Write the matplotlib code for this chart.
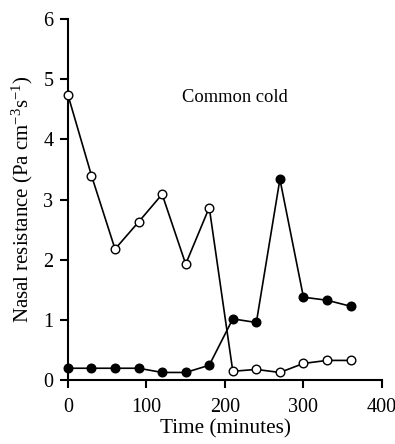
import matplotlib
matplotlib.use("Agg")
import matplotlib.pyplot as plt

time_min = [0, 30, 60, 90, 120, 150, 180, 210, 240, 270, 300, 330, 360]
open_series = [4.74, 3.40, 2.18, 2.63, 3.09, 1.93, 2.87, 0.15, 0.18, 0.13, 0.28, 0.33, 0.33]
filled_series = [0.20, 0.20, 0.20, 0.20, 0.13, 0.13, 0.25, 1.02, 0.96, 3.34, 1.38, 1.33, 1.23]
x_ticks = [0, 100, 200, 300, 400]
y_ticks = [0, 1, 2, 3, 4, 5, 6]

plt.rcParams['font.family'] = ['Liberation Serif', 'DejaVu Serif']
plt.rcParams['mathtext.fontset'] = 'custom'
plt.rcParams['mathtext.rm'] = 'Liberation Serif'
plt.rcParams['mathtext.it'] = 'Liberation Serif:italic'

fig = plt.figure(figsize=(3.95, 4.44), dpi=100)
ax = fig.add_axes([0.172, 0.1435, 0.795, 0.8135])

ax.plot(time_min, filled_series, color='black', lw=1.2, marker='o', ms=6.2,
        mfc='black', mec='black', mew=1.0, clip_on=False, zorder=3)
ax.plot(time_min, open_series, color='black', lw=1.2, marker='o', ms=6.2,
        mfc='white', mec='black', mew=1.0, clip_on=False, zorder=4)

ax.set_xlim(0, 400)
ax.set_ylim(0, 6)
ax.set_xticks(x_ticks)
ax.set_yticks(y_ticks)
for s in ['top', 'right']:
    ax.spines[s].set_visible(False)
for s in ['left', 'bottom']:
    ax.spines[s].set_linewidth(1.5)
ax.tick_params(direction='out', length=5.5, width=1.5, labelsize=14.5)
ax.tick_params(axis='x', pad=7)
ax.tick_params(axis='y', pad=5)

ax.set_xlabel('Time (minutes)', fontsize=15.3, labelpad=2)
ax.set_ylabel('Nasal resistance (Pa cm$^{-3}$s$^{-1}$)', fontsize=15, labelpad=6)
ax.text(213, 4.7, 'Common cold', fontsize=13.3, ha='center', va='center')

fig.savefig('out.png', dpi=100)
